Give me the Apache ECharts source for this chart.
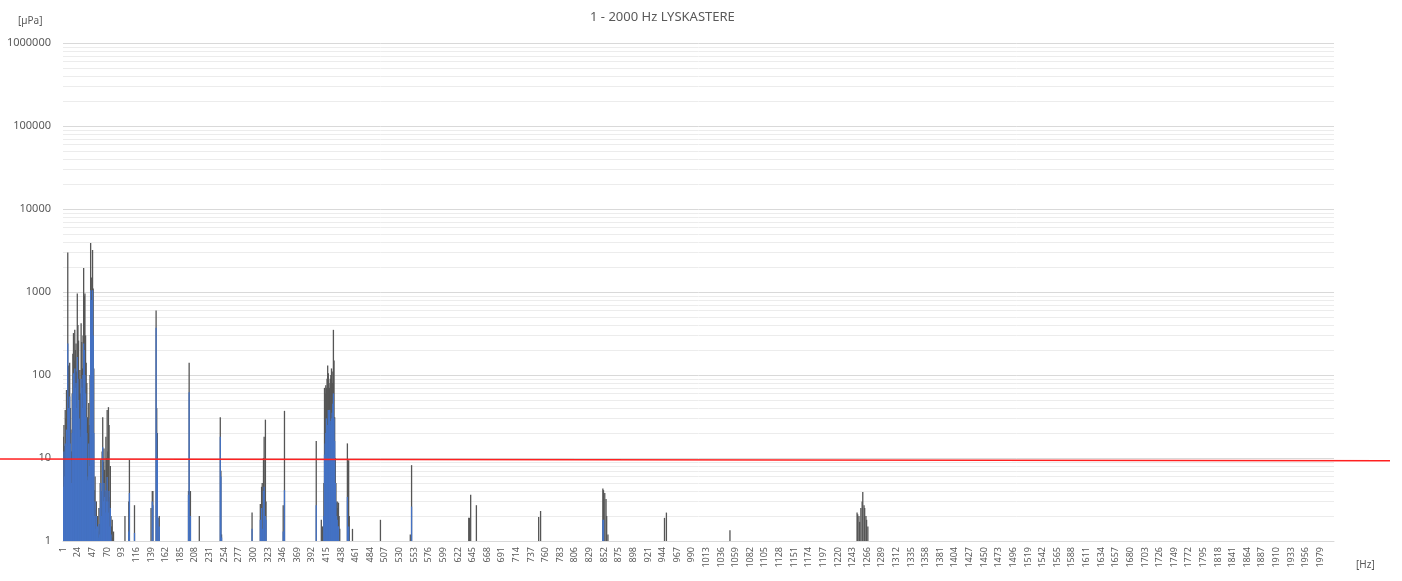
<!DOCTYPE html>
<html>
<head>
<meta charset="utf-8">
<title>1 - 2000 Hz LYSKASTERE</title>
<script src="https://cdn.jsdelivr.net/npm/echarts@6/dist/echarts.min.js"></script>
<style>
  html, body { margin: 0; padding: 0; background: #fff; }
  #chart { width: 1402px; height: 581px; }
</style>
</head>
<body>
<div id="chart"></div>
<script>
// frequency bins 1..2000 Hz
const categories = Array.from({ length: 2000 }, (_, i) => String(i + 1));

// dense low band, one value per Hz starting at 1 Hz
const lowGrey = [
  18, 25, 14, 38, 30, 66, 45, 3000, 130, 70,
  140, 40, 22, 12, 60, 180, 320, 150, 350, 200,
  240, 110, 960, 400, 260, 90, 115, 60, 420, 250,
  120, 300, 1950, 900, 960, 300, 140, 80, 31, 20,
  46, 25, 100, 3900, 1500, 900, 3200, 1100, 120, 4.1,
  6, 2.4, 3, 1.6, 2, 1.3, 2.5, 1.6, 5, 9.5,
  4, 12, 31, 9, 13, 7.2, 4, 18, 10, 38,
  12, 41, 25, 3.4, 8, 2, 1.5, 1.8, 1.1, 1.3
];
const lowBlue = [
  4.5, 12, 6, 15, 9, 22, 14, 240, 40, 20,
  55, 15, 9.4, 5, 20, 60, 105, 60, 120, 70,
  80, 40, 165, 90, 50, 30, 22, 18, 90, 70,
  40, 100, 240, 200, 100, 60, 31, 20, 5.4, 6,
  15, 8, 30, 1050, 800, 400, 1050, 300, 20, 2,
  3, 1.4, 2, 1.2, 1.5, 1.1, 1.6, 1.2, 2.5, 5,
  2, 4, 13.5, 3, 5, 3.4, 2.2, 4.1, 3, 5.9,
  3, 2.2, 4, 1.5, 2.5, 1.2, null, null, null, null
];

// isolated peaks above 80 Hz: [Hz, value]
const peaksGrey = [
  [98, 2], [104, 3], [105, 9.5], [113, 2.7], [139, 2.5], [141, 4], [142, 4],
  [147, 600], [148, 40], [149, 20], [150, 1.9], [152, 2],
  [198, 4], [199, 140], [201, 4], [215, 2],
  [248, 31], [249, 7], [250, 1.2], [298, 2.2],
  [311, 2.8], [313, 4.5], [314, 5], [316, 10], [317, 18], [319, 29], [320, 3],
  [347, 2.7], [349, 37], [399, 16], [407, 1.8], [409, 1.5],
  [411, 5], [412, 70], [413, 60], [414, 75], [415, 70], [416, 90], [417, 130],
  [418, 105], [419, 80], [420, 70], [421, 90], [422, 100], [423, 120], [424, 110],
  [425, 80], [426, 350], [427, 150], [428, 31], [429, 10], [430, 5], [431, 2.9],
  [432, 3], [433, 2.5], [434, 2.9], [435, 2], [436, 1.4],
  [448, 15], [450, 9.4], [451, 2], [456, 1.4], [500, 1.8], [547, 1.2], [549, 8.2],
  [639, 1.9], [640, 1.9], [642, 3.6], [651, 2.7], [749, 1.95], [752, 2.3],
  [850, 4.3], [851, 4.1], [853, 3.8], [855, 3.2], [856, 2], [858, 1.2],
  [947, 1.9], [950, 2.2], [1050, 1.35],
  [1250, 2.2], [1251, 2.1], [1253, 2], [1254, 1.7], [1256, 2.5], [1258, 3],
  [1259, 3.9], [1261, 2.7], [1262, 2.5], [1264, 2], [1265, 1.8], [1267, 1.5]
];
const peaksBlue = [
  [104, 1.3], [105, 3.8], [113, 1.25], [141, 3], [142, 2.7],
  [147, 370], [148, 20], [149, 10], [150, 1.9], [152, 1.5],
  [198, 3.6], [199, 62], [201, 2], [248, 18], [249, 6], [250, 1.1], [298, 1.4],
  [311, 1.8], [313, 2.5], [314, 1.4], [316, 4], [317, 4.5], [319, 2], [320, 1.8],
  [347, 1.3], [349, 4.1], [399, 2.7],
  [411, 2], [412, 11], [413, 15], [414, 20], [415, 30], [416, 22], [417, 25],
  [418, 38], [419, 30], [420, 38], [421, 25], [422, 28], [423, 30], [424, 35],
  [425, 45], [426, 60], [427, 30], [428, 16], [429, 5], [430, 3], [431, 2],
  [432, 1.8], [433, 1.5], [434, 1.5],
  [448, 3.4], [450, 1.5], [549, 2.6], [850, 1.8], [851, 1.8]
];

// limit line, left and right end
const limitLine = [9.7, 9.25];

const build = (low, peaks) => {
  const arr = categories.map(() => null);
  low.forEach((v, i) => { arr[i] = v; });
  peaks.forEach(([hz, v]) => { arr[hz - 1] = v; });
  return arr;
};

// Excel-style minor grid lines 2..9 in each decade
const minorLines = [];
for (let d = 0; d < 6; d++) {
  for (let m = 2; m <= 9; m++) minorLines.push({ yAxis: m * Math.pow(10, d) });
}

const font = 'Noto Sans';
const txt = '#595959';

const myChart = echarts.init(document.getElementById('chart'));
const option = {
  animation: false,
  title: [
    {
      text: '1 - 2000 Hz LYSKASTERE', left: 585, top: 6,
      textStyle: { fontFamily: font, fontSize: 13, fontWeight: 'normal', color: txt }
    },
    {
      text: '[µPa]', left: 13, top: 11,
      textStyle: { fontFamily: font, fontSize: 10, fontWeight: 'normal', color: txt }
    },
    {
      text: '[Hz]', left: 1351, top: 555,
      textStyle: { fontFamily: font, fontSize: 10, fontWeight: 'normal', color: txt }
    }
  ],
  grid: [
    { left: 63, right: 68, top: 43, bottom: 40, containLabel: false, outerBoundsMode: 'none' },
    { left: 0, right: 12, top: 43, bottom: 40, containLabel: false, outerBoundsMode: 'none' }
  ],
  xAxis: [
    {
      type: 'category', gridIndex: 0, data: categories,
      axisLine: { lineStyle: { color: '#d9d9d9' } },
      axisTick: { show: false },
      axisLabel: { interval: 22, rotate: 90, fontFamily: font, fontSize: 9, color: txt, margin: 6 }
    },
    { type: 'category', gridIndex: 1, data: ['a', 'b'], boundaryGap: false, show: false }
  ],
  yAxis: [
    {
      type: 'log', gridIndex: 0, logBase: 10, min: 1, max: 1000000,
      axisLine: { show: false },
      axisTick: { show: false },
      axisLabel: {
        fontFamily: font, fontSize: 11, color: txt, margin: 12,
        formatter: (v) => String(Math.round(v))
      },
      splitLine: { lineStyle: { color: '#d9d9d9' } }
    },
    { type: 'log', gridIndex: 1, logBase: 10, min: 1, max: 1000000, show: false }
  ],
  series: [
    {
      type: 'bar', xAxisIndex: 0, yAxisIndex: 0,
      data: build(lowGrey, peaksGrey),
      barWidth: 1.3, barGap: '-100%',
      itemStyle: { color: '#555555' },
      markLine: {
        silent: true, symbol: 'none', z: 1,
        label: { show: false },
        lineStyle: { color: '#ececec', type: 'solid', width: 1 },
        data: minorLines
      }
    },
    {
      type: 'bar', xAxisIndex: 0, yAxisIndex: 0,
      data: build(lowBlue, peaksBlue),
      barWidth: 1.3, barGap: '-100%',
      itemStyle: { color: '#4472C4' }
    },
    {
      type: 'line', xAxisIndex: 1, yAxisIndex: 1,
      data: limitLine, symbol: 'none', z: 10,
      lineStyle: { color: '#ff2020', width: 1.5 }
    }
  ]
};
myChart.setOption(option);
</script>
</body>
</html>
